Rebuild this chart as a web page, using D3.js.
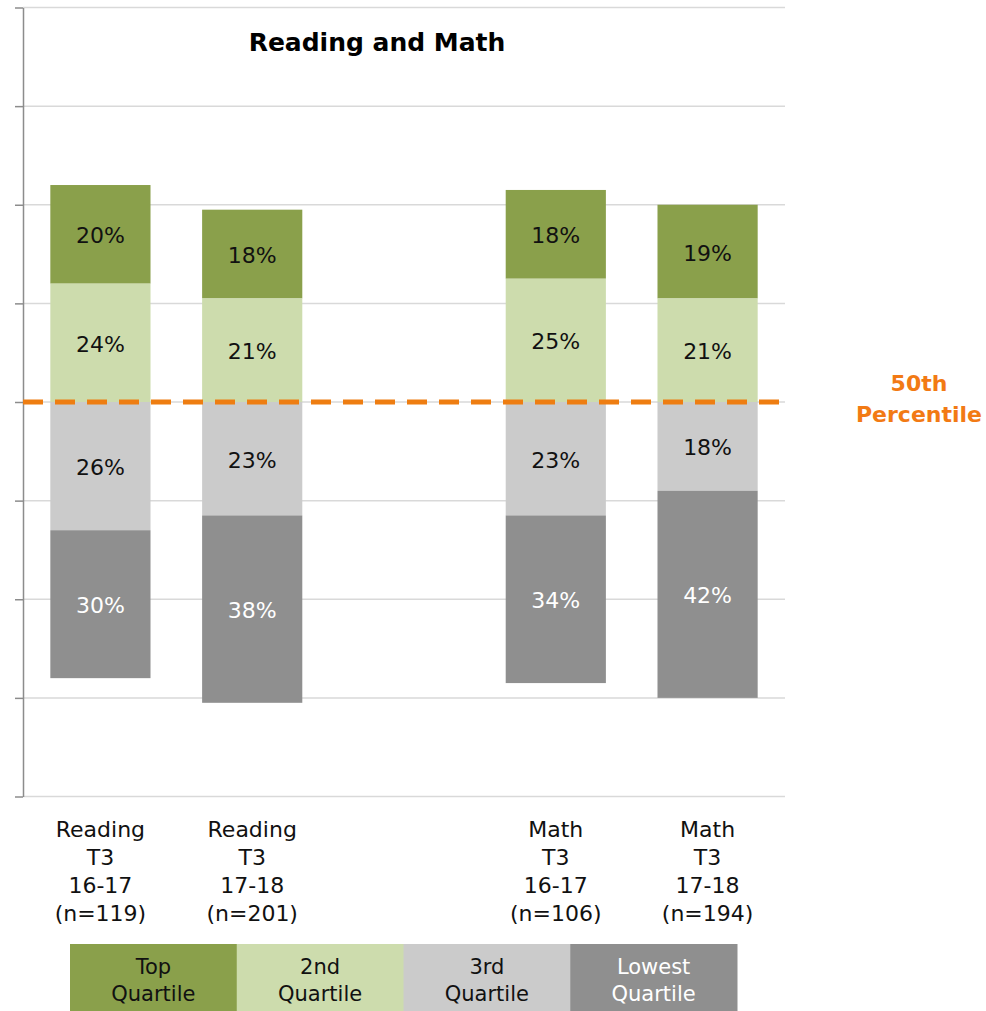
<!DOCTYPE html>
<html><head><meta charset="utf-8">
<script src="https://cdn.jsdelivr.net/npm/d3@7"></script>
<style>body{margin:0;background:#fff}svg{display:block}text{font-family:"DejaVu Sans",sans-serif}</style>
</head><body><svg id="c" width="986" height="1011"></svg>
<script>
const categories = ["Reading|T3|16-17|(n=119)", "Reading|T3|17-18|(n=201)", "", "Math|T3|16-17|(n=106)", "Math|T3|17-18|(n=194)"];
const topQuartile = [20, 18, null, 18, 19];
const secondQuartile = [24, 21, null, 25, 21];
const thirdQuartile = [26, 23, null, 23, 18];
const lowestQuartile = [30, 38, null, 34, 42];
const legendLabels = ["Top|Quartile", "2nd|Quartile", "3rd|Quartile", "Lowest|Quartile"];
const yTicks = [-80, -60, -40, -20, 0, 20, 40, 60, 80];
const title = "Reading and Math";
const refLabel = ["50th", "Percentile"];

const colors = ["#8aa04b", "#cddcad", "#cbcbcb", "#8f8f8f"];
const textColors = ["#111", "#111", "#111", "#fff"];

const svg = d3.select("#c");
const pLeft = 23, pRight = 785, pTop = 7.5, pBottom = 796.5;
const y = d3.scaleLinear().domain([-80, 80]).range([pBottom, pTop]);
const x = d3.scaleBand().domain(d3.range(categories.length)).range([pLeft, pRight]).paddingInner(0.34).paddingOuter(0.18);

// gridlines
svg.append("g").selectAll("line").data(yTicks).join("line")
  .attr("x1", pLeft).attr("x2", pRight).attr("y1", d => y(d)).attr("y2", d => y(d))
  .attr("stroke", "#d9d9d9").attr("stroke-width", 1.5);

// axis
const ax = svg.append("g").attr("transform", `translate(${pLeft},0)`)
  .call(d3.axisLeft(y).tickValues(yTicks).tickFormat("").tickSize(8).tickSizeOuter(0));
ax.select(".domain").attr("stroke", "#8c8c8c").attr("stroke-width", 1.5);
ax.selectAll(".tick line").attr("stroke", "#8c8c8c").attr("stroke-width", 1.5);

// segments
const segs = [];
categories.forEach((c, i) => {
  if (topQuartile[i] == null) return;
  const t = topQuartile[i], s = secondQuartile[i], r = thirdQuartile[i], l = lowestQuartile[i];
  segs.push({i, k: 0, v: t, y0: s, y1: s + t});
  segs.push({i, k: 1, v: s, y0: 0, y1: s});
  segs.push({i, k: 2, v: r, y0: -r, y1: 0});
  segs.push({i, k: 3, v: l, y0: -r - l, y1: -r});
});
const g = svg.append("g");
g.selectAll("rect").data(segs).join("rect")
  .attr("x", d => x(d.i)).attr("width", x.bandwidth())
  .attr("y", d => y(d.y1)).attr("height", d => y(d.y0) - y(d.y1))
  .attr("fill", d => colors[d.k]);
g.selectAll("text").data(segs).join("text")
  .attr("x", d => x(d.i) + x.bandwidth() / 2)
  .attr("y", d => (y(d.y0) + y(d.y1)) / 2 + 9)
  .attr("text-anchor", "middle").attr("font-size", 22)
  .attr("fill", d => textColors[d.k]).text(d => d.v + "%");

// reference line
svg.append("line").attr("x1", pLeft).attr("x2", pRight + 3).attr("y1", y(0)).attr("y2", y(0))
  .attr("stroke", "#ee7d11").attr("stroke-width", 5).attr("stroke-dasharray", "20,12");
svg.append("g").selectAll("text").data(refLabel).join("text")
  .attr("x", 919).attr("y", (d, j) => 391 + j * 31).attr("text-anchor", "middle")
  .attr("font-size", 22).attr("font-weight", "bold").attr("fill", "#f27a14").text(d => d);

// title
svg.append("text").attr("x", 377).attr("y", 51).attr("text-anchor", "middle")
  .attr("font-size", 25).attr("font-weight", "bold").attr("fill", "#000").text(title);

// category labels
categories.forEach((c, i) => {
  if (!c) return;
  svg.append("g").selectAll("text").data(c.split("|")).join("text")
    .attr("x", x(i) + x.bandwidth() / 2).attr("y", (d, j) => 837 + j * 28)
    .attr("text-anchor", "middle").attr("font-size", 22).attr("fill", "#111").text(d => d);
});

// legend
const lx = d3.scaleBand().domain(d3.range(legendLabels.length)).range([70, 737]);
const lg = svg.append("g");
lg.selectAll("rect").data(legendLabels).join("rect")
  .attr("x", (d, i) => lx(i)).attr("width", lx.bandwidth() + 0.5).attr("y", 944).attr("height", 67)
  .attr("fill", (d, i) => colors[i]);
legendLabels.forEach((l, i) => {
  lg.append("g").selectAll("text").data(l.split("|")).join("text")
    .attr("x", lx(i) + lx.bandwidth() / 2).attr("y", (d, j) => 974 + j * 27)
    .attr("text-anchor", "middle").attr("font-size", 21).attr("fill", textColors[i]).text(d => d);
});
</script></body></html>
